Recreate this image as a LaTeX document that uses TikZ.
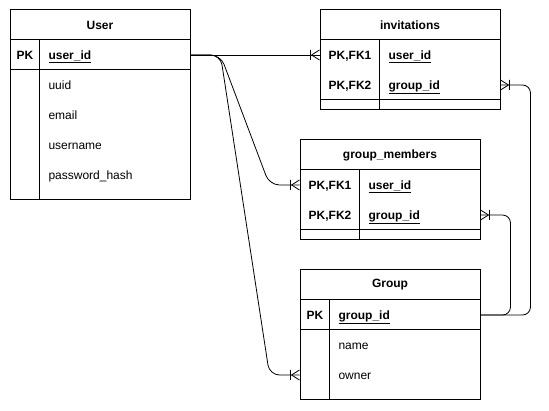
\documentclass[tikz,border=0pt]{standalone}
\usepackage{fontspec}
\setmainfont{Liberation Sans}
\newcommand{\crowW}[1]{\draw[conn] ([xshift=-8pt]#1) -- ([yshift=5pt]#1) ([xshift=-8pt]#1) -- ([yshift=-5pt]#1) ([xshift=-9pt,yshift=5pt]#1) -- ([xshift=-9pt,yshift=-5pt]#1);}
\newcommand{\crowE}[1]{\draw[conn] ([xshift=8pt]#1) -- ([yshift=5pt]#1) ([xshift=8pt]#1) -- ([yshift=-5pt]#1) ([xshift=9pt,yshift=5pt]#1) -- ([xshift=9pt,yshift=-5pt]#1);}
\begin{document}
\begin{tikzpicture}[x=1pt,y=-1pt,line width=1pt,
  every node/.style={font=\fontsize{12}{14}\selectfont, inner sep=0pt},
  box/.style={draw, minimum width=180pt, minimum height=#1, inner sep=0pt},
  hdr/.style={font=\fontsize{12}{14}\selectfont\bfseries},
  row/.style={minimum width=180pt, minimum height=30pt},
  key/.style={font=\fontsize{12}{14}\selectfont\bfseries, text height=8.6pt, text depth=0pt},
  fld/.style={anchor=west, text height=8.6pt, text depth=0pt},
  kfld/.style={anchor=west, text height=8.6pt, text depth=0pt, font=\fontsize{12}{14}\selectfont\bfseries},
  conn/.style={line width=0.8pt, line join=round}]
\useasboundingbox (0,0) rectangle (549,411);

% User
\node[box=30pt,hdr] (userh) at (100,25) {User};
\node[box=30pt] (userpk) at (100,55) {};
\node[box=130pt] (userbody) at (100,135) {};
\draw ([xshift=30pt]userpk.north west) -- ([xshift=30pt]userbody.south west);
\node[key] (userk) at (25,55) {PK};
\node[kfld] (useridt) at (48,55) {\underline{user\_id}};
\node[fld] (uuidt) at (48,85) {uuid};
\node[fld] (emailt) at (48,115) {email};
\node[fld] (usernamet) at (48,145) {username};
\node[fld] (pwt) at (48,175) {password\_hash};

% invitations
\node[box=30pt,hdr] (invh) at (410,25) {invitations};
\node[box=60pt] (invbody) at (410,70) {};
\node[box=10pt] (invfoot) at (410,105) {};
\draw ([xshift=60pt]invbody.north west) -- ([xshift=60pt]invfoot.south west);
\node[row] (invu) at (410,55) {};
\node[row] (invg) at (410,85) {};
\node[key] (invk1) at (350,55) {PK,FK1};
\node[key] (invk2) at (350,85) {PK,FK2};
\node[kfld] (invut) at (388,55) {\underline{user\_id}};
\node[kfld] (invgt) at (388,85) {\underline{group\_id}};

% group_members
\node[box=30pt,hdr] (gmh) at (390,155) {group\_members};
\node[box=60pt] (gmbody) at (390,200) {};
\node[box=10pt] (gmfoot) at (390,235) {};
\draw ([xshift=60pt]gmbody.north west) -- ([xshift=60pt]gmfoot.south west);
\node[row] (gmu) at (390,185) {};
\node[row] (gmg) at (390,215) {};
\node[key] (gmk1) at (330,185) {PK,FK1};
\node[key] (gmk2) at (330,215) {PK,FK2};
\node[kfld] (gmut) at (368,185) {\underline{user\_id}};
\node[kfld] (gmgt) at (368,215) {\underline{group\_id}};

% Group
\node[box=30pt,hdr] (grph) at (390,285) {Group};
\node[box=30pt] (grppk) at (390,315) {};
\node[box=70pt] (grpbody) at (390,365) {};
\draw ([xshift=30pt]grppk.north west) -- ([xshift=30pt]grpbody.south west);
\node[row] (grpowner) at (390,375) {};
\node[key] (grpk) at (315,315) {PK};
\node[kfld] (grpidt) at (338,315) {\underline{group\_id}};
\node[fld] (namet) at (338,345) {name};
\node[fld] (ownert) at (338,375) {owner};

% connectors
\draw[conn] (userpk.east) -- (invu.west);
\draw[conn, rounded corners=10pt] (userpk.east) -- ++(30,0) -- ([xshift=-30pt]gmu.west) -- (gmu.west);
\draw[conn, rounded corners=10pt] (userpk.east) -- ++(30,0) -- ([xshift=-30pt]grpowner.west) -- (grpowner.west);
\draw[conn, rounded corners=8pt] (grppk.east) -- ++(30,0) -- ([xshift=30pt]gmg.east) -- (gmg.east);
\draw[conn, rounded corners=8pt] (grppk.east) -- ++(50,0) -- ([xshift=30pt]invg.east) -- (invg.east);
\crowW{invu.west}
\crowW{gmu.west}
\crowW{grpowner.west}
\crowE{gmg.east}
\crowE{invg.east}
\end{tikzpicture}
\end{document}
